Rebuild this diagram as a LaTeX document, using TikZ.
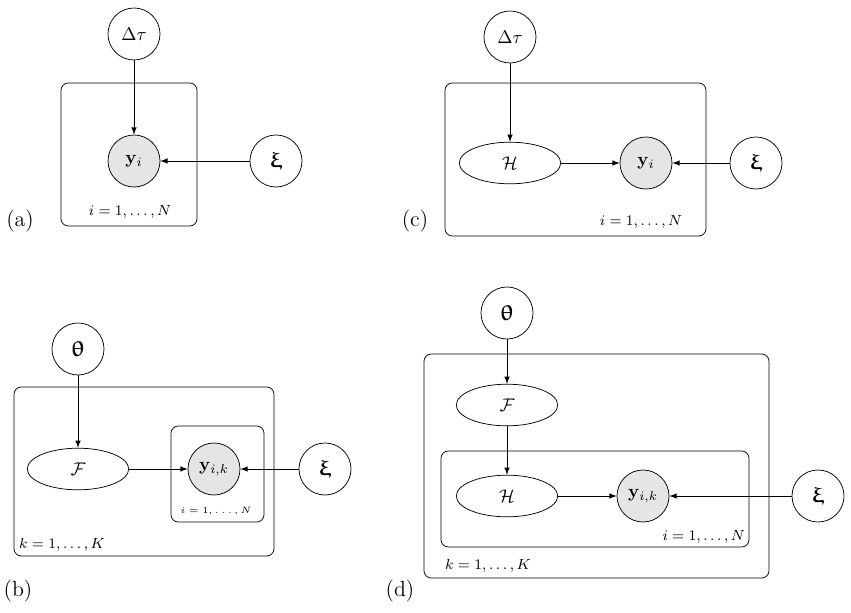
\documentclass[tikz,border=0pt]{standalone}
\usepackage{amsmath}
\usepackage{bm}
\usepackage{upgreek}
\usetikzlibrary{shapes.geometric}

\begin{document}
\begin{tikzpicture}
                \tikzset{x=0.01923cm, y=-0.01923cm, >=latex}
                \tikzstyle{latent}=[circle, draw, minimum size=1cm, inner sep=0pt]
                \tikzstyle{param}=[latent, font=\large]
                \tikzstyle{obs}=[latent, fill=gray!20]
                \tikzstyle{det}=[ellipse, draw, minimum width=1.95cm, minimum height=0.8cm, inner sep=0pt]
                \tikzstyle{plate}=[draw, rounded corners=4pt]
                \tikzstyle{lbl}=[inner sep=1pt, font=\footnotesize]
                \tikzstyle{subcap}=[font=\large]

                \useasboundingbox (0, 0) rectangle (851, 612);

                % (a)
                \draw[plate] (61, 83) rectangle (197, 226);
                \draw (134, 34)     node[latent]    (dtauA) {$\Delta\tau$};
                \draw (134, 161)    node[obs]       (yA)    {$\mathbf{y}_i$};
                \draw (276, 161)    node[param]     (xiA)   {$\bm{\upxi}$};
                \draw (130, 212)    node[lbl]       (platA) {$i=1,\ldots,N$};
                \draw (20, 221)     node[subcap]    (capA)  {(a)};

                \draw [->]          (dtauA) -- (yA);
                \draw [->]          (xiA) -- (yA);

                % (c)
                \draw[plate] (445, 83) rectangle (706, 236);
                \draw (510, 37)     node[latent]    (dtauC) {$\Delta\tau$};
                \draw (510, 163)    node[det]       (HC)    {$\mathcal{H}$};
                \draw (646, 163)    node[obs]       (yC)    {$\mathbf{y}_i$};
                \draw (756, 163)    node[param]     (xiC)   {$\bm{\upxi}$};
                \draw (641, 222)    node[lbl]       (platC) {$i=1,\ldots,N$};
                \draw (415, 221)    node[subcap]    (capC)  {(c)};

                \draw [->]          (dtauC) -- (HC);
                \draw [->]          (HC) -- (yC);
                \draw [->]          (xiC) -- (yC);

                % (b)
                \draw[plate] (14, 387) rectangle (274, 556);
                \draw[plate] (171, 426) rectangle (264, 522);
                \draw (78, 349)     node[param]     (thetaB) {$\bm{\uptheta}$};
                \draw (78, 469)     node[det]       (FB)    {$\mathcal{F}$};
                \draw (214, 469)    node[obs]       (yB)    {$\mathbf{y}_{i,k}$};
                \draw (325, 469)    node[param]     (xiB)   {$\bm{\upxi}$};
                \draw (216, 511)    node[lbl, font=\tiny] (platBi) {$i=1,\ldots,N$};
                \draw (17, 545)     node[lbl, anchor=west] (platBk) {$k=1,\ldots,K$};
                \draw (18, 591)     node[subcap]    (capB)  {(b)};

                \draw [->]          (thetaB) -- (FB);
                \draw [->]          (FB) -- (yB);
                \draw [->]          (xiB) -- (yB);

                % (d)
                \draw[plate] (424, 354) rectangle (769, 578);
                \draw[plate] (441, 451) rectangle (749, 547);
                \draw (507, 313)    node[param]     (thetaD) {$\bm{\uptheta}$};
                \draw (507, 405)    node[det]       (FD)    {$\mathcal{F}$};
                \draw (507, 496)    node[det]       (HD)    {$\mathcal{H}$};
                \draw (643, 496)    node[obs]       (yD)    {$\mathbf{y}_{i,k}$};
                \draw (818, 496)    node[param]     (xiD)   {$\bm{\upxi}$};
                \draw (747, 537)    node[lbl, anchor=east] (platDi) {$i=1,\ldots,N$};
                \draw (443, 566)    node[lbl, anchor=west] (platDk) {$k=1,\ldots,K$};
                \draw (400, 591)    node[subcap]    (capD)  {(d)};

                \draw [->]          (thetaD) -- (FD);
                \draw [->]          (FD) -- (HD);
                \draw [->]          (HD) -- (yD);
                \draw [->]          (xiD) -- (yD);
            \end{tikzpicture}
\end{document}
